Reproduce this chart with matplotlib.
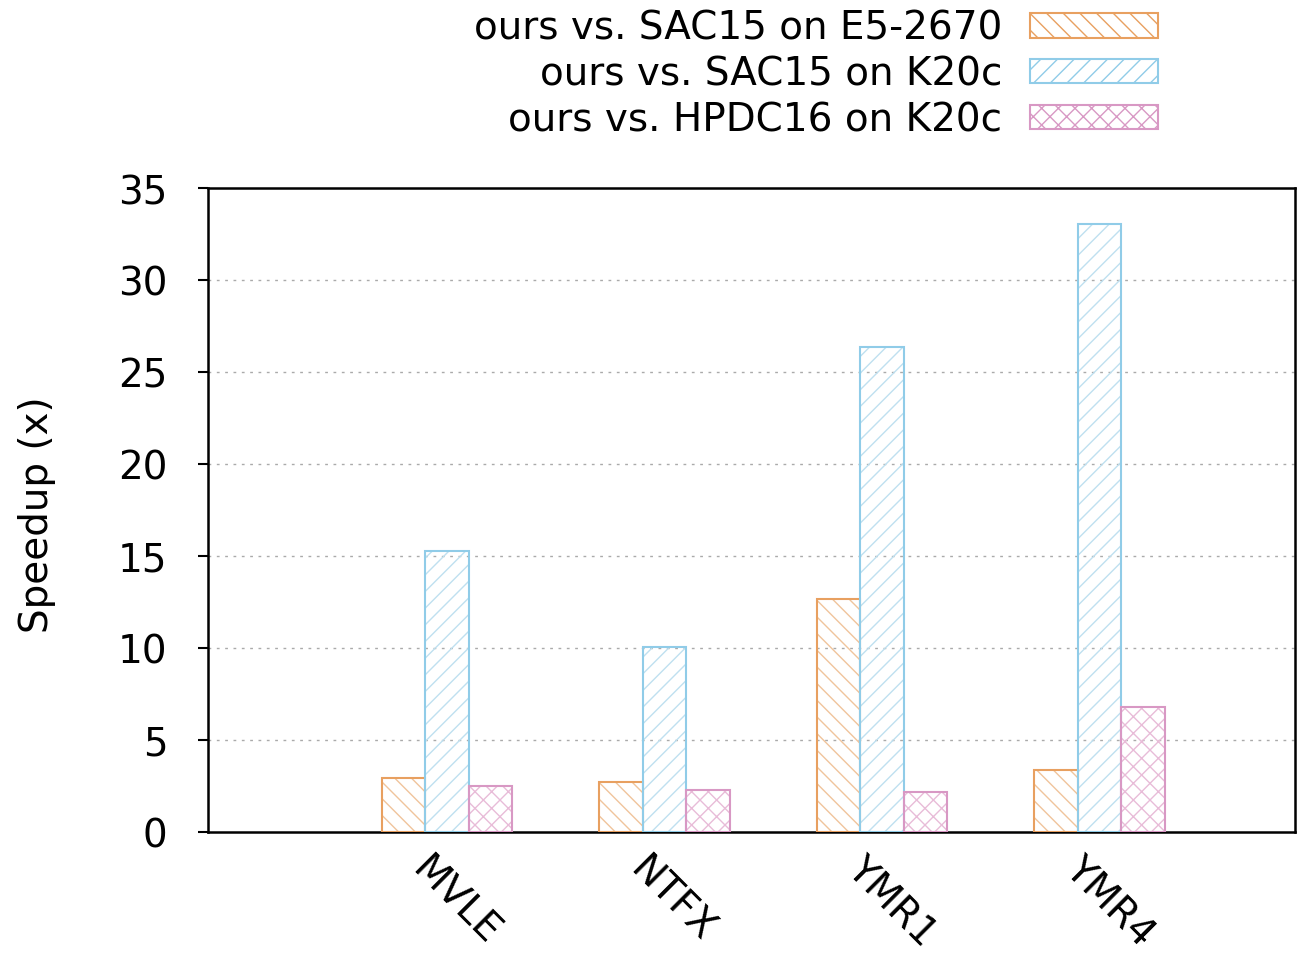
import numpy as np
import matplotlib
matplotlib.use("Agg")
import matplotlib.pyplot as plt
from matplotlib.transforms import ScaledTranslation

plt.rcParams['font.family'] = ['DejaVu Sans']
plt.rcParams['hatch.linewidth'] = 1.0

# data
benchmarks = ["MVLE", "NTFX", "YMR1", "YMR4"]
series_names = ["ours vs. SAC15 on E5-2670",
                "ours vs. SAC15 on K20c",
                "ours vs. HPDC16 on K20c"]
sac15_cpu = [2.93, 2.72, 12.65, 3.37]
sac15_gpu = [15.25, 10.04, 26.38, 33.05]
hpdc16_gpu = [2.52, 2.28, 2.18, 6.8]

edge_colors = ["#e8a060", "#90cce8", "#d898c4"]
hatch_colors = ["#f0c49c", "#bfe0f0", "#e8bcd8"]
hatches = ["\\\\", "//", "xx"]
FS = 28

fig = plt.figure(figsize=(12.99, 9.62), dpi=100)
ax = fig.add_axes([208 / 1299, 1 - 833 / 962, (1295 - 208) / 1299, (833 - 189) / 962])

x = np.arange(len(benchmarks))
width = 0.2
handles = []
for i, vals in enumerate([sac15_cpu, sac15_gpu, hpdc16_gpu]):
    pos = x + (i - 1) * width
    # hatch layer (lighter), then outline on top
    ax.bar(pos, vals, width, color="none", edgecolor=hatch_colors[i],
           hatch=hatches[i], linewidth=0, zorder=2)
    ax.bar(pos, vals, width, color="none", edgecolor=edge_colors[i],
           linewidth=1.5, zorder=3)
    h = plt.Rectangle((0, 0), 1, 1, facecolor="none", edgecolor=edge_colors[i],
                      hatch=hatches[i], linewidth=1.5)
    handles.append(h)

ax.set_xlim(-1.1, 3.9)
ax.set_ylim(0, 35)
ax.set_yticks(np.arange(0, 36, 5))
ax.tick_params(axis='y', direction='out', length=7.2, width=1.5, pad=22, labelsize=FS)
ax.tick_params(axis='x', length=0, pad=0, labelsize=FS)
ax.set_xticks(x, benchmarks, rotation=-45, ha='left', va='center', rotation_mode='anchor')
for lab in ax.get_xticklabels():
    lab.set_transform(lab.get_transform() + ScaledTranslation(-0.29, -0.30, fig.dpi_scale_trans))

for yv in np.arange(5, 35, 5):
    ax.axhline(yv, color="#aaaaaa", linestyle=(0, (2, 4)), linewidth=1, zorder=1)

for sp in ax.spines.values():
    sp.set_linewidth(1.8)

fig.text(37 / 1299, 1 - 515 / 962, "Speedup (x)", rotation=90, ha='center', va='center', fontsize=FS)

fig.legend(handles, series_names, loc='upper right', bbox_to_anchor=(1158 / 1299, 1 - 10 / 962),
           frameon=False, markerfirst=False, fontsize=FS, handlelength=3.3, handleheight=0.6,
           handletextpad=0.7, labelspacing=0.2, borderpad=0, borderaxespad=0)

fig.savefig("out.png", dpi=100)
